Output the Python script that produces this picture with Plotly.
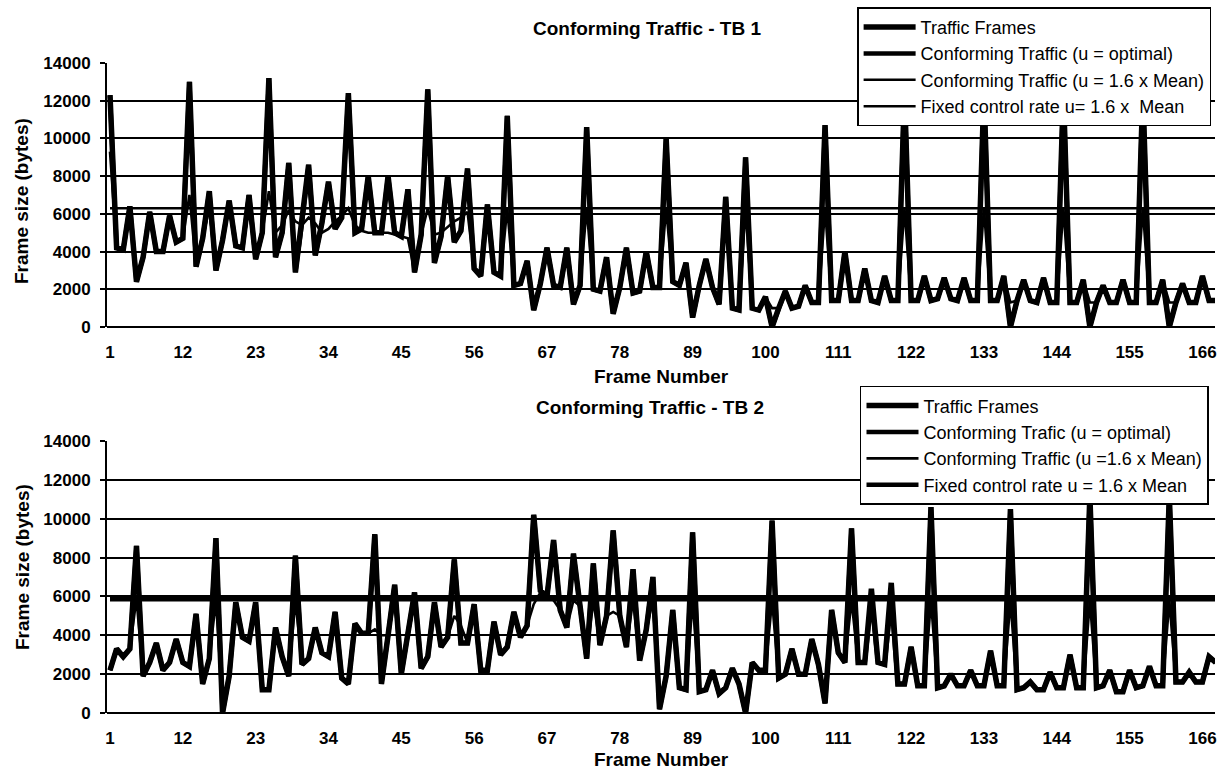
import plotly.graph_objects as go

frames = list(range(1, 169))
tick_frames = [1, 12, 23, 34, 45, 56, 67, 78, 89, 100, 111, 122, 133, 144, 155, 166]
y_ticks = [0, 2000, 4000, 6000, 8000, 10000, 12000, 14000]

# ---------------- TB 1 ----------------
traffic_tb1 = [
    12300, 4200, 4100, 6400, 2400, 3700, 6100, 4000, 4000, 5900, 4500, 4700,
    13000, 3200, 4700, 7200, 3000, 4600, 6700, 4300, 4200, 7000, 3600, 5000,
    13200, 3700, 5000, 8700, 2900, 5500, 8600, 3800, 5500, 7700, 5200, 5800,
    12400, 5000, 5200, 8000, 5000, 5000, 8000, 5000, 4800, 7300, 2900, 4900,
    12600, 3400, 4800, 8000, 4500, 5100, 8400, 3100, 2700, 6500, 2900, 2700,
    11200, 2200, 2300, 3500, 900, 2300, 4200, 2200, 2100, 4200, 1200, 2200,
    10600, 2000, 1900, 3700, 700, 2100, 4200, 1800, 1900, 4000, 2100, 2100,
    10000, 2400, 2200, 3400, 500, 2200, 3600, 2100, 1200, 6900, 1000, 900,
    9000, 1000, 900, 1600, 0, 1000, 1900, 1000, 1100, 2200, 1300, 1300,
    10700, 1400, 1400, 4000, 1400, 1400, 3100, 1400, 1300, 2700, 1400, 1400,
    12500, 1400, 1400, 2700, 1400, 1500, 2600, 1500, 1400, 2600, 1400, 1400,
    12500, 1400, 1400, 2700, 0, 1400, 2500, 1400, 1300, 2600, 1300, 1300,
    12500, 1300, 1300, 2500, 0, 1300, 2200, 1300, 1300, 2500, 1300, 1300,
    12500, 1300, 1300, 2500, 0, 1300, 2300, 1300, 1300, 2700, 1400, 1400,
]
conf_opt_tb1 = [
    12300, 4200, 4100, 6400, 2400, 3700, 6100, 4000, 4000, 5900, 4500, 4700,
    13000, 3200, 4700, 7200, 3000, 4600, 6700, 4300, 4200, 7000, 3600, 5000,
    13200, 3700, 5000, 8700, 2900, 5500, 8600, 3800, 5500, 7700, 5200, 5800,
    12400, 5000, 5200, 8000, 5000, 5000, 8000, 5000, 4800, 7300, 2900, 4900,
    12600, 3400, 4800, 8000, 4500, 5100, 8400, 3100, 2700, 6500, 2900, 2700,
    11200, 2200, 2300, 3500, 900, 2300, 4200, 2200, 2100, 4200, 1200, 2200,
    10600, 2000, 1900, 3700, 700, 2100, 4200, 1800, 1900, 4000, 2100, 2100,
    10000, 2400, 2200, 3400, 500, 2200, 3600, 2100, 1200, 6900, 1000, 900,
    9000, 1000, 900, 1600, 0, 1000, 1900, 1000, 1100, 2200, 1300, 1300,
    10700, 1400, 1400, 4000, 1400, 1400, 3100, 1400, 1300, 2700, 1400, 1400,
    12500, 1400, 1400, 2700, 1400, 1500, 2600, 1500, 1400, 2600, 1400, 1400,
    12500, 1400, 1400, 2700, 0, 1400, 2500, 1400, 1300, 2600, 1300, 1300,
    12500, 1300, 1300, 2500, 0, 1300, 2200, 1300, 1300, 2500, 1300, 1300,
    12500, 1300, 1300, 2500, 0, 1300, 2300, 1300, 1300, 2700, 1400, 1400,
]
conf_mean_tb1 = [
    9300, 4200, 4100, 6300, 2400, 3700, 6100, 4000, 4000, 5900, 4500, 4700,
    7000, 3200, 4700, 6300, 3000, 4600, 6300, 4300, 4200, 6300, 3600, 5000,
    7200, 5000, 5400, 6200, 5600, 5400, 5800, 5500, 5000, 5200, 5600, 5900,
    6300, 5400, 5100, 5000, 5000, 5000, 5000, 4900, 4800, 4700, 2900, 4900,
    6300, 4900, 5000, 5300, 5600, 5800, 6100, 3100, 2700, 6300, 2900, 2700,
    6300, 2200, 2300, 3500, 900, 2300, 4200, 2200, 2100, 4200, 1200, 2200,
    6300, 2000, 1900, 3700, 700, 2100, 4200, 1800, 1900, 4000, 2100, 2100,
    6300, 2400, 2200, 3400, 500, 2200, 3600, 2100, 1200, 6300, 1000, 900,
    6300, 1000, 900, 1600, 1000, 1000, 1900, 1000, 1100, 2200, 1300, 1300,
    6300, 1400, 1400, 4000, 1400, 1400, 3100, 1400, 1300, 2700, 1400, 1400,
    6300, 1400, 1400, 2700, 1400, 1500, 2600, 1500, 1400, 2600, 1400, 1400,
    6300, 1400, 1400, 2700, 1300, 1400, 2500, 1400, 1300, 2600, 1300, 1300,
    6300, 1300, 1300, 2500, 1300, 1300, 2200, 1300, 1300, 2500, 1300, 1300,
    6300, 1300, 1300, 2500, 1300, 1300, 2300, 1300, 1300, 2700, 1400, 1400,
]
fixed_rate_tb1 = 6300

# ---------------- TB 2 ----------------
traffic_tb2 = [
    2200, 3300, 2900, 3300, 8600, 1900, 2600, 3600, 2200, 2600, 3800, 2600,
    2400, 5100, 1500, 2800, 9000, 0, 1900, 5700, 3900, 3700, 5700, 1200,
    1200, 4400, 2900, 1900, 8100, 2500, 2800, 4400, 3100, 2900, 5200, 1800,
    1500, 4600, 4100, 4100, 9200, 1500, 4000, 6600, 2000, 4000, 6200, 2300,
    2900, 5700, 3400, 3900, 7900, 3600, 3600, 5600, 2200, 2200, 4700, 3000,
    3400, 5200, 3900, 4500, 10200, 6300, 6000, 8900, 5300, 4400, 8200, 5500,
    2800, 7700, 3500, 5000, 9400, 5000, 3400, 7400, 2700, 4300, 7000, 200,
    1900, 5300, 1300, 1200, 9300, 1100, 1200, 2200, 1000, 1300, 2300, 1500,
    0, 2600, 2200, 2200, 9900, 1800, 2000, 3300, 2000, 2000, 3800, 2500,
    500, 5300, 3100, 2600, 9500, 2600, 2600, 6400, 2600, 2500, 6700, 1500,
    1500, 3400, 1400, 1400, 10600, 1300, 1400, 2000, 1400, 1400, 2200, 1400,
    1400, 3200, 1400, 1400, 10500, 1200, 1300, 1600, 1200, 1200, 2100, 1300,
    1300, 3000, 1300, 1300, 11200, 1300, 1400, 2200, 1100, 1100, 2200, 1300,
    1400, 2400, 1400, 1400, 11200, 1600, 1600, 2100, 1600, 1600, 2900, 2600,
]
conf_opt_tb2 = [
    2200, 3300, 2900, 3300, 8600, 1900, 2600, 3600, 2200, 2600, 3800, 2600,
    2400, 5100, 1500, 2800, 9000, 0, 1900, 5700, 3900, 3700, 5700, 1200,
    1200, 4400, 2900, 1900, 8100, 2500, 2800, 4400, 3100, 2900, 5200, 1800,
    1500, 4600, 4100, 4100, 9200, 1500, 4000, 6600, 2000, 4000, 6200, 2300,
    2900, 5700, 3400, 3900, 7900, 3600, 3600, 5600, 2200, 2200, 4700, 3000,
    3400, 5200, 3900, 4500, 10200, 6300, 6000, 8900, 5300, 4400, 8200, 5500,
    2800, 7700, 3500, 5000, 9400, 5000, 3400, 7400, 2700, 4300, 7000, 200,
    1900, 5300, 1300, 1200, 9300, 1100, 1200, 2200, 1000, 1300, 2300, 1500,
    0, 2600, 2200, 2200, 9900, 1800, 2000, 3300, 2000, 2000, 3800, 2500,
    500, 5300, 3100, 2600, 9500, 2600, 2600, 5800, 2600, 2500, 5800, 1500,
    1500, 3400, 1400, 1400, 10600, 1300, 1400, 2000, 1400, 1400, 2200, 1400,
    1400, 3200, 1400, 1400, 10500, 1200, 1300, 1600, 1200, 1200, 2100, 1300,
    1300, 3000, 1300, 1300, 11200, 1300, 1400, 2200, 1100, 1100, 2200, 1300,
    1400, 2400, 1400, 1400, 11200, 1600, 1600, 2100, 1600, 1600, 2900, 2600,
]
conf_mean_tb2 = [
    2200, 3300, 2900, 3300, 5900, 1900, 2600, 3600, 2200, 2600, 3800, 2600,
    2400, 5100, 1500, 2800, 5800, 500, 1900, 5700, 3900, 3700, 5700, 1200,
    1200, 4400, 2900, 1900, 5800, 2500, 2800, 4400, 3100, 2900, 5200, 1800,
    1500, 4600, 4100, 4100, 4300, 4000, 4000, 5800, 2000, 4000, 5800, 2300,
    2900, 5700, 3400, 3900, 5000, 4500, 3600, 5600, 2200, 2200, 4700, 3000,
    3400, 5200, 3900, 4500, 5600, 6200, 6000, 5800, 5300, 4400, 5800, 5500,
    2800, 5800, 3500, 5000, 5200, 5000, 3400, 5800, 2700, 4300, 5800, 200,
    1900, 5300, 1300, 1200, 5800, 1100, 1200, 2200, 1000, 1300, 2300, 1500,
    0, 2600, 2200, 2200, 5800, 1800, 2000, 3300, 2000, 2000, 3800, 2500,
    500, 5300, 3100, 2600, 5800, 2600, 2600, 5800, 2600, 2500, 5800, 1500,
    1500, 3400, 1400, 1400, 5800, 1300, 1400, 2000, 1400, 1400, 2200, 1400,
    1400, 3200, 1400, 1400, 5800, 1200, 1300, 1600, 1200, 1200, 2100, 1300,
    1300, 3000, 1300, 1300, 5800, 1300, 1400, 2200, 1100, 1100, 2200, 1300,
    1400, 2400, 1400, 1400, 5800, 1600, 1600, 2100, 1600, 1600, 2900, 2600,
]
fixed_rate_tb2 = 5850

names_tb1 = ["Traffic Frames", "Conforming Traffic (u = optimal)",
             "Conforming Traffic (u = 1.6 x Mean)", "Fixed control rate u= 1.6 x  Mean"]
names_tb2 = ["Traffic Frames", "Conforming Trafic (u = optimal)",
             "Conforming Traffic (u =1.6 x Mean)", "Fixed control rate u = 1.6 x Mean"]

FONT = "Liberation Sans, Arial, sans-serif"
BLACK = "#000000"

fig = go.Figure()


def add_panel(xa, ya, leg, names, traffic, opt, mean16, fixed, fixed_w):
    series = [
        (names[0], traffic, 5.5),
        (names[1], opt, 4.5),
        (names[2], mean16, 2.6),
        (names[3], [fixed] * len(frames), fixed_w),
    ]
    for i, (nm, vals, w) in enumerate(series):
        fig.add_trace(go.Scatter(
            x=frames, y=vals, name=nm, mode="lines",
            line=dict(color=BLACK, width=w, shape="linear"),
            xaxis=xa, yaxis=ya, legend=leg,
            legendgroup=f"{leg}_{i}", hoverinfo="skip",
        ))


add_panel("x", "y", "legend", names_tb1, traffic_tb1, conf_opt_tb1, conf_mean_tb1, fixed_rate_tb1, 2.6)
add_panel("x2", "y2", "legend2", names_tb2, traffic_tb2, conf_opt_tb2, conf_mean_tb2, fixed_rate_tb2, 4.5)

tickfont = dict(family=FONT, size=17, color=BLACK, weight="bold")

xcommon = dict(range=[0.547, 167.9], tickmode="array", tickvals=tick_frames,
               ticktext=[str(t) for t in tick_frames], showgrid=False,
               zeroline=False, showline=False, ticks="", tickfont=tickfont,
               ticklabelstandoff=13, automargin=False, domain=[0, 1])
ycommon = dict(range=[0, 14000], tickmode="array", tickvals=y_ticks,
               ticktext=[str(t) for t in y_ticks],
               showgrid=True, gridcolor=BLACK, gridwidth=2,
               zeroline=True, zerolinecolor=BLACK, zerolinewidth=2,
               showline=True, linecolor=BLACK, linewidth=2,
               ticks="outside", ticklen=5, tickwidth=2, tickcolor=BLACK,
               tickfont=tickfont, ticklabelstandoff=6, automargin=False)

legcommon = dict(font=dict(family=FONT, size=18, color=BLACK),
                 bgcolor="white", bordercolor=BLACK, borderwidth=1.5,
                 xanchor="left", yanchor="top", tracegroupgap=0,
                 itemwidth=52)

fig.update_layout(
    width=1219, height=771,
    margin=dict(l=107, r=4, t=0, b=0, autoexpand=False),
    paper_bgcolor="white", plot_bgcolor="white",
    font=dict(family=FONT, color=BLACK),
    showlegend=True,
    xaxis=dict(**xcommon, anchor="y"),
    yaxis=dict(**ycommon, domain=[0.5759, 0.9183], anchor="x"),
    xaxis2=dict(**xcommon, anchor="y2"),
    yaxis2=dict(**ycommon, domain=[0.0752, 0.4280], anchor="x2"),
    legend=dict(**legcommon, x=0.677, y=0.9905),
    legend2=dict(**legcommon, x=0.6796, y=0.4995),
)

titlefont = dict(family=FONT, size=19, color=BLACK, weight="bold")
axtitlefont = dict(family=FONT, size=19, color=BLACK, weight="bold")
annots = [
    dict(text="Conforming Traffic - TB 1", x=(647 - 107) / 1108, y=1 - 29 / 771, font=titlefont),
    dict(text="Conforming Traffic - TB 2", x=(650 - 107) / 1108, y=1 - 407 / 771, font=titlefont),
    dict(text="Frame Number", x=(661 - 107) / 1108, y=1 - 376 / 771, font=axtitlefont),
    dict(text="Frame Number", x=(661 - 107) / 1108, y=1 - 759 / 771, font=axtitlefont),
    dict(text="Frame size (bytes)", x=(22 - 107) / 1108, y=1 - 201 / 771, textangle=-90, font=axtitlefont),
    dict(text="Frame size (bytes)", x=(22 - 107) / 1108, y=1 - 567 / 771, textangle=-90, font=axtitlefont),
]
for a in annots:
    fig.add_annotation(xref="paper", yref="paper", showarrow=False,
                       xanchor="center", yanchor="middle", **a)

fig.write_html(
    "out.html",
    config={"displayModeBar": False},
    post_script="document.body.style.margin='0';document.body.style.overflow='hidden';",
)
